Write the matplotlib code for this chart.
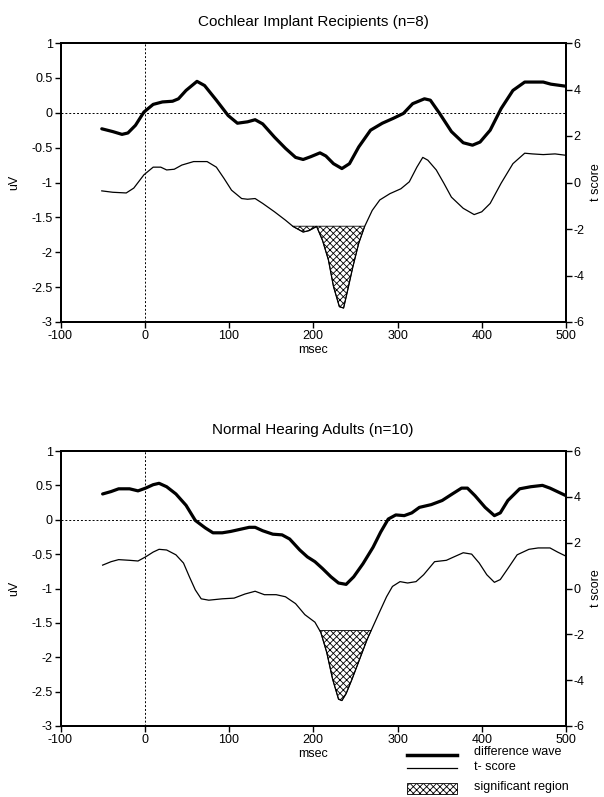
import matplotlib
matplotlib.use("Agg")
import matplotlib.pyplot as plt
from matplotlib.lines import Line2D
from matplotlib.patches import Rectangle

plt.rcParams['font.family'] = ['Liberation Sans', 'DejaVu Sans']
plt.rcParams['hatch.linewidth'] = 0.6

# ---------------- data ----------------
x_ticks = [-100, 0, 100, 200, 300, 400, 500]
uv_ticks = [1, 0.5, 0, -0.5, -1, -1.5, -2, -2.5, -3]
uv_tick_labels = ["1", "0.5", "0", "-0.5", "-1", "-1.5", "-2", "-2.5", "-3"]
t_ticks = [6, 4, 2, 0, -2, -4, -6]
t_tick_labels = ["6", "4", "2", "0", "-2", "-4", "-6"]

titles = ["Cochlear Implant Recipients (n=8)", "Normal Hearing Adults (n=10)"]

# Cochlear implant recipients: difference wave (uV)
ci_wave_ms = [-51, -38, -27, -20, -11, -1, 10, 21, 33, 40, 49, 62, 71, 85, 99,
              110, 122, 131, 140, 154, 167, 179, 188, 197, 208, 215, 224, 234,
              243, 254, 268, 282, 295, 307, 318, 332, 339, 350, 364, 378, 389,
              398, 410, 423, 437, 451, 460, 473, 482, 500]
ci_wave_uv = [-0.23, -0.27, -0.31, -0.29, -0.18, 0.01, 0.12, 0.155, 0.165, 0.20,
              0.32, 0.45, 0.39, 0.18, -0.04, -0.15, -0.13, -0.10, -0.16, -0.35,
              -0.51, -0.64, -0.67, -0.63, -0.575, -0.62, -0.73, -0.80, -0.73,
              -0.49, -0.25, -0.15, -0.08, -0.01, 0.13, 0.20, 0.18, -0.01, -0.27,
              -0.43, -0.465, -0.42, -0.25, 0.06, 0.32, 0.44, 0.44, 0.44, 0.41, 0.38]

# Cochlear implant recipients: t-score
ci_t_ms = [-51, -38, -22, -13, -1, 10, 19, 26, 35, 44, 58, 74, 85, 94, 103, 115,
           122, 131, 140, 154, 167, 176, 188, 195, 204, 211, 218, 224, 231, 236,
           240, 247, 254, 261, 270, 279, 291, 304, 314, 323, 330, 336, 346, 355,
           364, 378, 391, 400, 410, 423, 437, 451, 460, 473, 487, 500]
ci_t = [-0.36, -0.42, -0.45, -0.24, 0.33, 0.66, 0.66, 0.54, 0.57, 0.75, 0.90,
        0.90, 0.66, 0.18, -0.33, -0.69, -0.72, -0.69, -0.90, -1.26, -1.62,
        -1.89, -2.13, -2.07, -1.89, -2.49, -3.33, -4.47, -5.34, -5.40, -4.77,
        -3.63, -2.61, -1.89, -1.20, -0.75, -0.48, -0.27, 0.03, 0.66, 1.08, 0.96,
        0.54, -0.03, -0.63, -1.11, -1.38, -1.26, -0.90, -0.03, 0.81, 1.26, 1.23,
        1.20, 1.23, 1.17]
ci_threshold = -1.88

# Normal hearing adults: difference wave (uV)
nh_wave_ms = [-50, -40, -31, -18, -8, 1, 10, 17, 26, 37, 49, 60, 72, 81, 92,
              102, 113, 124, 131, 140, 152, 163, 172, 184, 193, 202, 211, 221,
              230, 239, 248, 259, 271, 280, 289, 298, 308, 317, 326, 340, 353,
              365, 376, 383, 392, 404, 415, 422, 431, 445, 458, 472, 481, 500]
nh_wave_uv = [0.375, 0.41, 0.45, 0.45, 0.42, 0.46, 0.51, 0.53, 0.48, 0.375, 0.21,
              -0.01, -0.12, -0.19, -0.19, -0.17, -0.14, -0.11, -0.11, -0.16,
              -0.21, -0.22, -0.28, -0.44, -0.54, -0.61, -0.71, -0.83, -0.92,
              -0.94, -0.83, -0.64, -0.40, -0.18, 0.01, 0.07, 0.06, 0.10, 0.18,
              0.22, 0.28, 0.375, 0.46, 0.46, 0.35, 0.18, 0.06, 0.10, 0.28, 0.45,
              0.48, 0.50, 0.46, 0.35]

# Normal hearing adults: t-score
nh_t_ms = [-50, -40, -31, -18, -8, 1, 10, 17, 26, 37, 46, 53, 60, 67, 76, 92,
           106, 119, 131, 142, 156, 167, 179, 190, 202, 209, 216, 223, 230, 234,
           239, 246, 255, 264, 271, 278, 287, 294, 303, 312, 322, 331, 344, 358,
           367, 378, 388, 397, 406, 415, 422, 431, 442, 456, 467, 481, 490, 500]
nh_t = [1.02, 1.17, 1.26, 1.23, 1.20, 1.38, 1.59, 1.71, 1.68, 1.47, 1.11, 0.51,
        -0.06, -0.45, -0.51, -0.45, -0.42, -0.24, -0.12, -0.27, -0.27, -0.36,
        -0.66, -1.14, -1.47, -1.92, -2.79, -3.96, -4.83, -4.89, -4.59, -3.96,
        -3.09, -2.22, -1.65, -1.08, -0.36, 0.09, 0.30, 0.24, 0.30, 0.60, 1.17,
        1.23, 1.38, 1.56, 1.50, 1.11, 0.60, 0.27, 0.39, 0.87, 1.47, 1.71, 1.77,
        1.77, 1.59, 1.41]
nh_threshold = -1.83

legend_labels = ["difference wave", "t- score", "significant region"]

# ---------------- figure ----------------
W, H = 604, 797
fig = plt.figure(figsize=(W / 100, H / 100), dpi=100)


def fx(px):
    return px / W


def fy(py):
    return 1 - py / H


def panel(top_px, bottom_px, title, wms, wuv, tms, tval, thr):
    left_px, right_px = 60.5, 566
    rect = [fx(left_px), fy(bottom_px), (right_px - left_px) / W,
            (bottom_px - top_px) / H]
    ax = fig.add_axes(rect)
    ax.set_xlim(-100, 500)
    ax.set_ylim(-3, 1)
    ax.axvline(0, color='black', lw=0.7, ls=(0, (2, 2)), zorder=1)
    ax.axhline(0, color='black', lw=0.7, ls=(0, (2, 2)), zorder=1)
    ax.plot(wms, wuv, color='black', lw=2.3, solid_joinstyle='round',
            solid_capstyle='round', zorder=3)
    ax.set_xticks(x_ticks)
    ax.set_xticklabels([str(v) for v in x_ticks])
    ax.set_yticks(uv_ticks)
    ax.set_yticklabels(uv_tick_labels)
    ax.tick_params(direction='out', length=4, width=1, labelsize=9, pad=1.5)
    ax.set_xlabel('msec', fontsize=9, labelpad=2)
    ax.set_ylabel('uV', fontsize=9, labelpad=8)
    ax.set_title(title, fontsize=11, pad=12)

    ax2 = ax.twinx()
    ax2.set_ylim(-6, 6)
    mask = [v < thr for v in tval]
    ax2.fill_between(tms, tval, thr, where=mask, interpolate=True,
                     facecolor='white', edgecolor='black', hatch='xxxxx',
                     lw=0.6, zorder=2)
    ax2.plot(tms, tval, color='black', lw=0.9, zorder=3)
    ax2.set_yticks(t_ticks)
    ax2.set_yticklabels(t_tick_labels)
    ax2.tick_params(direction='out', length=4, width=1, labelsize=9, pad=1.5)
    ax2.set_ylabel('t score', fontsize=9, rotation=90, labelpad=4)
    for a in (ax, ax2):
        for s in a.spines.values():
            s.set_linewidth(1.4)
    return ax, ax2


panel(43, 322, titles[0], ci_wave_ms, ci_wave_uv, ci_t_ms, ci_t, ci_threshold)
panel(451, 726, titles[1], nh_wave_ms, nh_wave_uv, nh_t_ms, nh_t, nh_threshold)

# legend (below the lower panel, right side)
hx0, hx1, tx = 407, 457, 474
fig.add_artist(Line2D([fx(hx0), fx(hx1)], [fy(755), fy(755)], color='black',
                      lw=2.5, transform=fig.transFigure))
fig.add_artist(Line2D([fx(hx0), fx(hx1)], [fy(768), fy(768)], color='black',
                      lw=0.9, transform=fig.transFigure))
fig.add_artist(Rectangle((fx(hx0), fy(794)), (hx1 - hx0) / W, 11 / H,
                         facecolor='white', edgecolor='black', hatch='xxxxx',
                         lw=0.6, transform=fig.transFigure))
for lab, py in zip(legend_labels, [752, 767, 787]):
    fig.text(fx(tx), fy(py), lab, fontsize=9, va='center', ha='left')

fig.savefig('out.png', dpi=100)
